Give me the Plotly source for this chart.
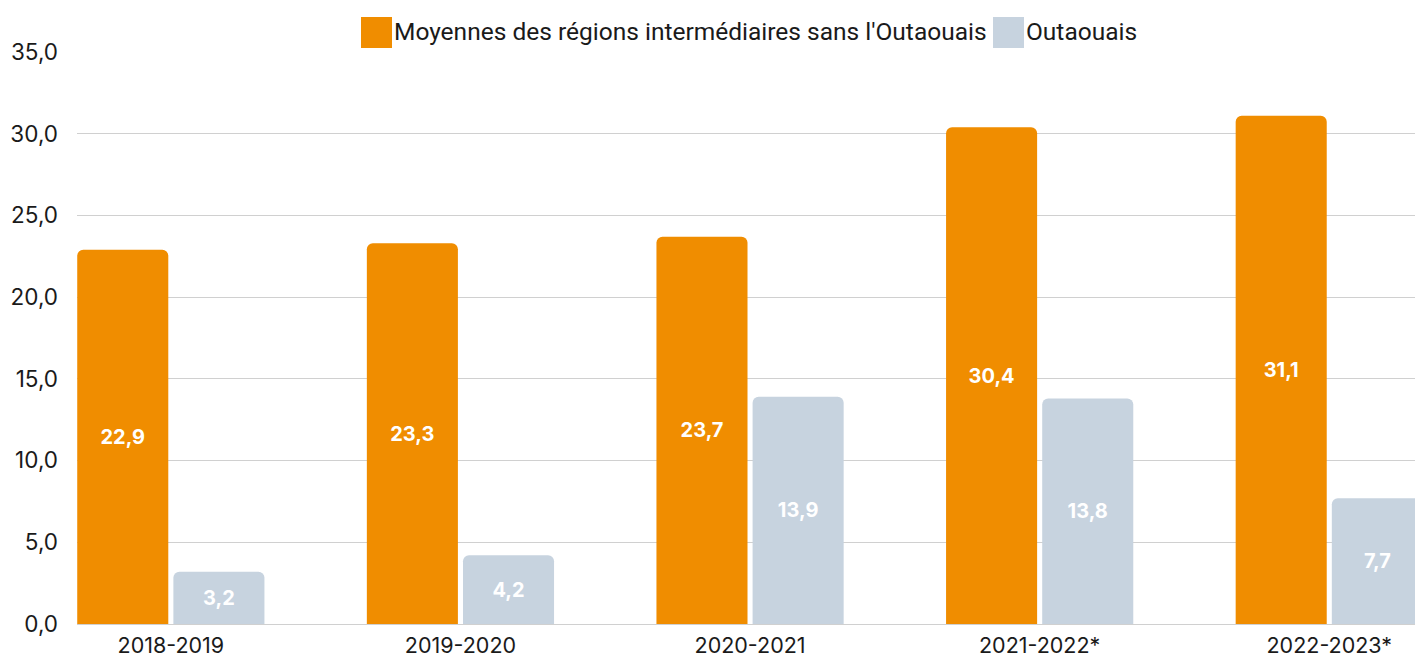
import plotly.graph_objects as go

categories = ["2018-2019", "2019-2020", "2020-2021", "2021-2022*", "2022-2023*"]
series_names = ["Moyennes des régions intermédiaires sans l'Outaouais", "Outaouais"]
moyennes = [22.9, 23.3, 23.7, 30.4, 31.1]
outaouais = [3.2, 4.2, 13.9, 13.8, 7.7]
colors = ["#F08D00", "#C7D3DF"]
y_ticks = [0, 5, 10, 15, 20, 25, 30, 35]

fig = go.Figure()
for name, vals, col in zip(series_names, [moyennes, outaouais], colors):
    fig.add_trace(go.Bar(
        x=list(range(len(categories))), y=vals, name=name,
        marker=dict(color=col, line=dict(width=0)),
        texttemplate="%{y:.1f}", textposition="inside", insidetextanchor="middle",
        textfont=dict(family="Inter", size=20, color="white", weight="bold"),
        constraintext="none", showlegend=False,
    ))

# custom legend (large swatches)
W, H = 1415, 659
L, R, T, B = 77, 0, 52, 35
pw, ph = W - L - R, H - T - B
legend_items = [(361, 392, series_names[0], colors[0]), (993, 1024, series_names[1], colors[1])]
for x0, x1, txt, col in legend_items:
    fig.add_shape(type="rect", xref="paper", yref="paper",
                  x0=(x0 - L) / pw, x1=(x1 - L) / pw,
                  y0=1 + (T - 48) / ph, y1=1 + (T - 17) / ph,
                  fillcolor=col, line=dict(width=0))
    fig.add_annotation(xref="paper", yref="paper", x=(x1 - L) / pw,
                       y=1 + (T - 32) / ph, text=txt, showarrow=False,
                       xanchor="left", yanchor="middle",
                       font=dict(family="Roboto", size=24.5, color="#1a1a1a"))

fig.update_layout(
    width=W, height=H,
    margin=dict(l=L, r=R, t=T, b=B, autoexpand=False),
    paper_bgcolor="white", plot_bgcolor="white",
    barmode="group", bargap=0.336, bargroupgap=0.053,
    barcornerradius=6,
    separators=", ",
    xaxis=dict(
        tickmode="array", tickvals=list(range(len(categories))), ticktext=categories,
        range=[-0.324, 4.296], showgrid=False, zeroline=False, showline=False,
        tickfont=dict(family="Inter", size=21.5, color="#1a1a1a"), ticks="",
        ticklabelstandoff=6, automargin=False,
    ),
    yaxis=dict(
        range=[0, 35], tickvals=y_ticks, tickformat=".1f",
        showgrid=True, gridcolor="#D0D0D0", gridwidth=1,
        zeroline=True, zerolinecolor="#D0D0D0", zerolinewidth=1,
        tickfont=dict(family="Inter", size=22.5, color="#1a1a1a"),
        ticklabelstandoff=18, ticks="", automargin=False,
    ),
)

fig.write_html("out.html", config={"displayModeBar": False},
               post_script="document.body.style.margin='0';")
